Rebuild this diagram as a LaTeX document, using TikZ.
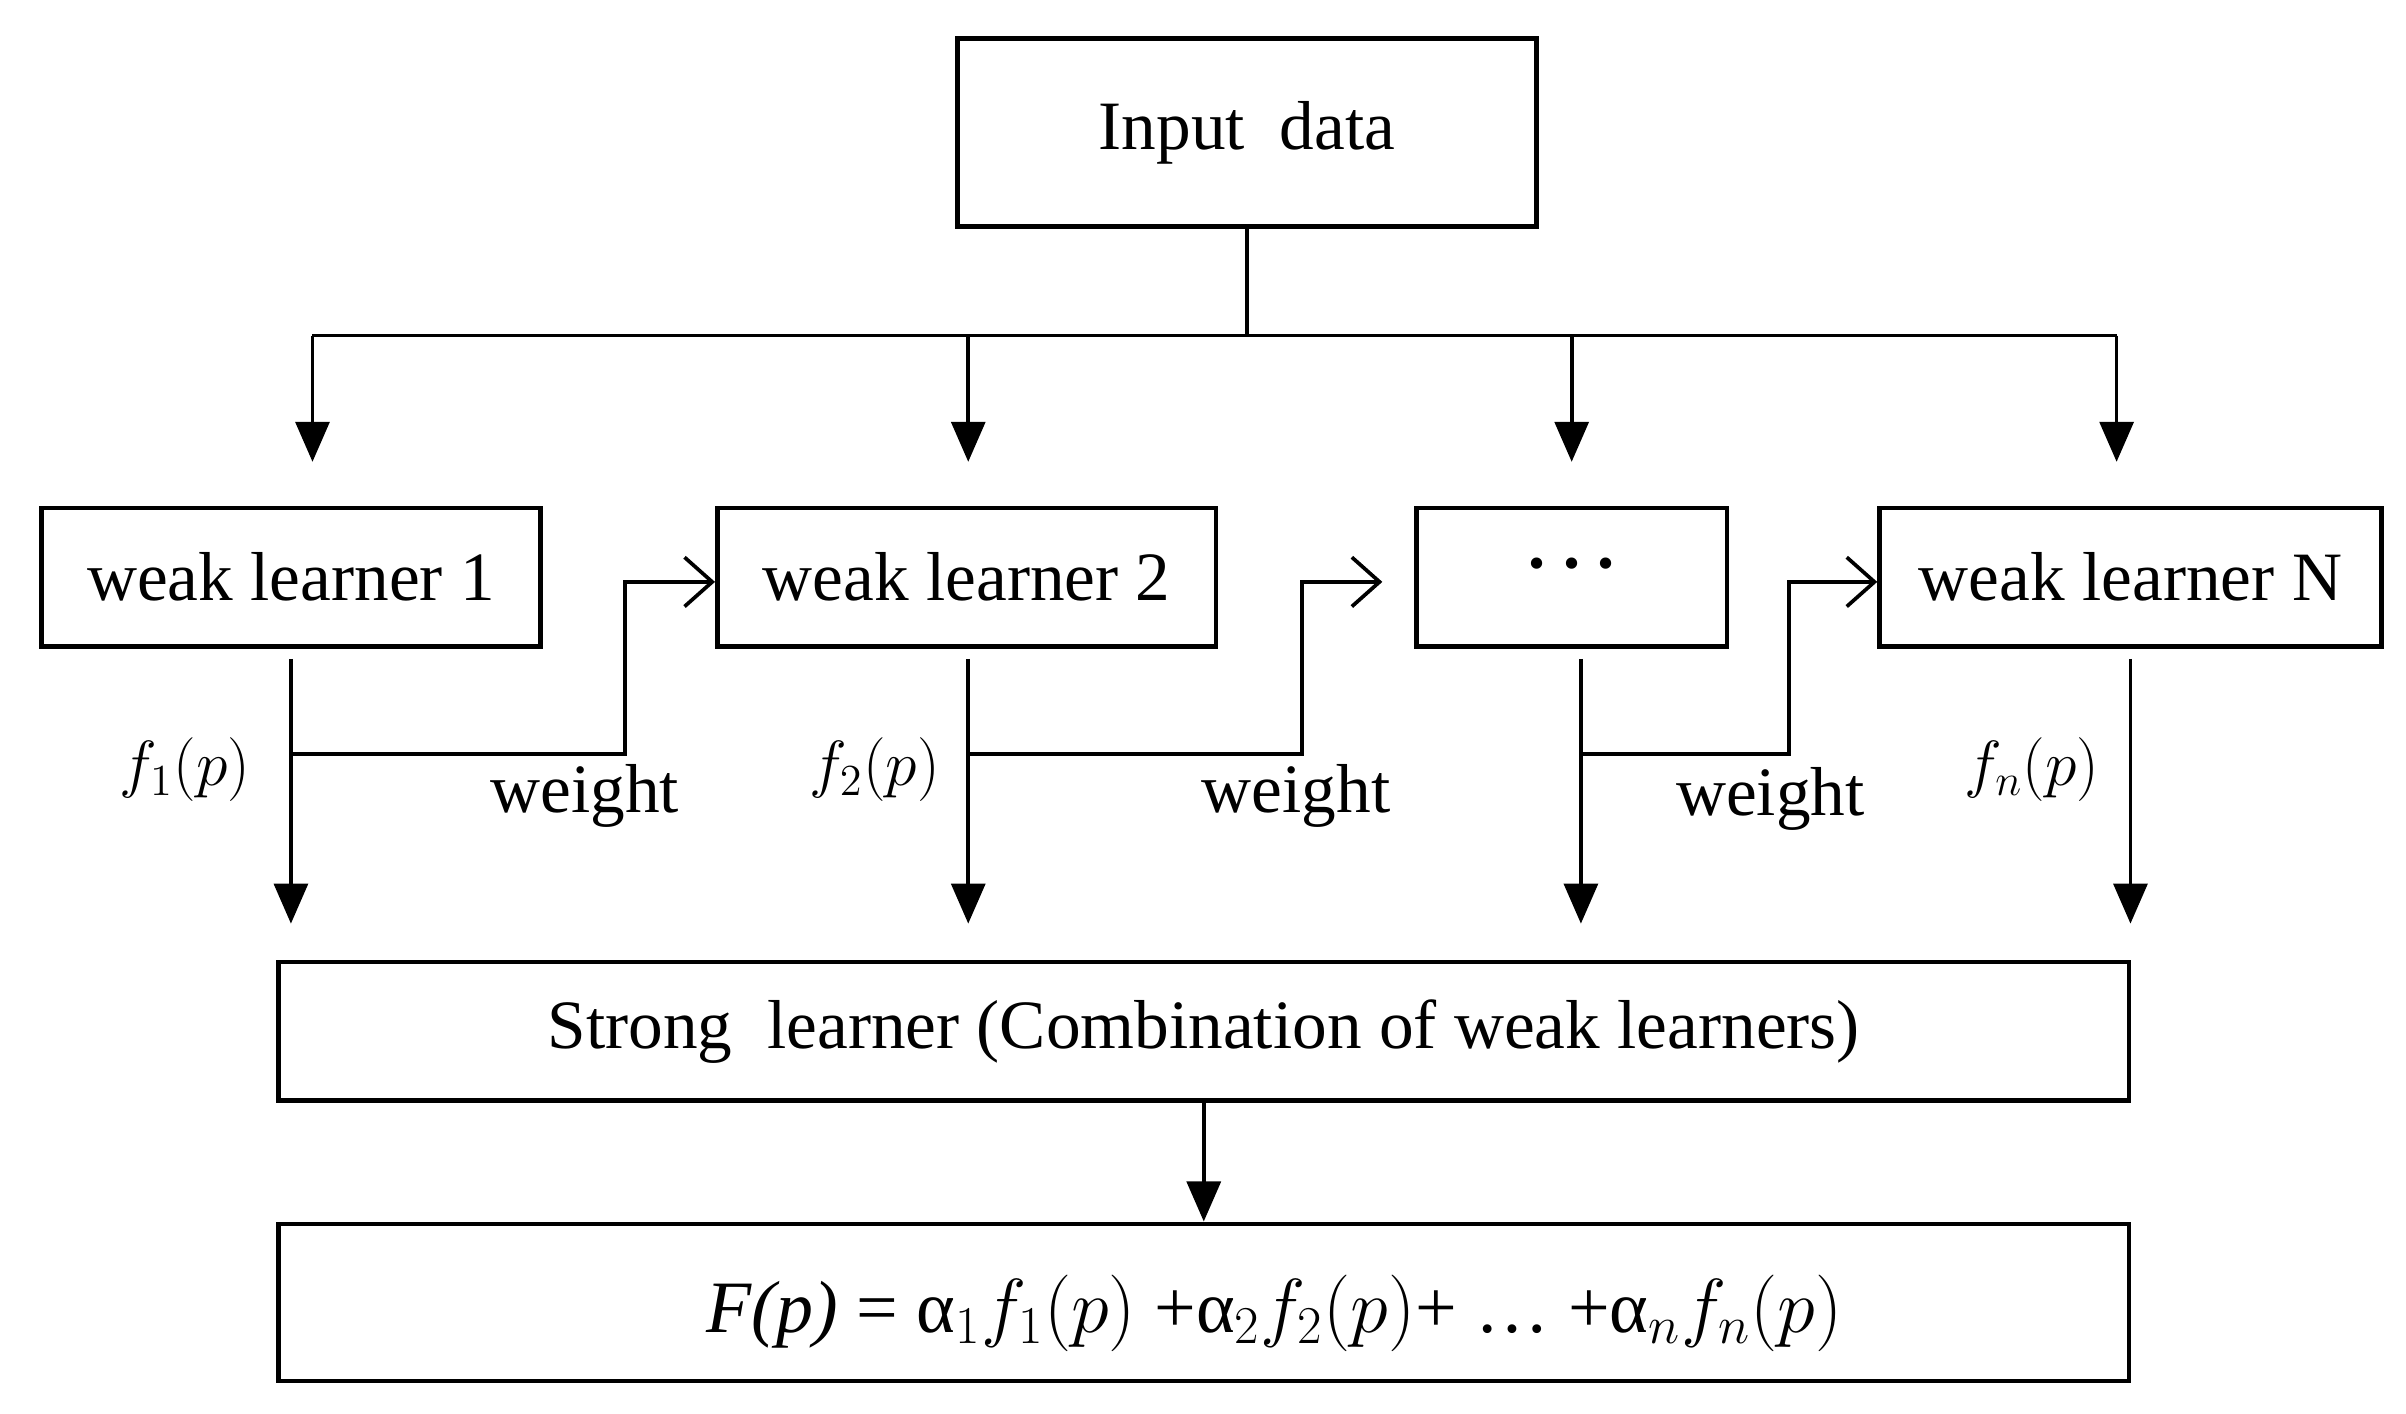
\documentclass[tikz,border=0pt]{standalone}
\usepackage{fontspec}
\setmainfont{Liberation Serif}
\usetikzlibrary{arrows.meta}
\begin{document}
\begin{tikzpicture}[x=0.5pt,y=-0.5pt,
  box/.style={draw,line width=1.5pt,inner sep=0pt},
  ln/.style={line width=1.2pt},
  fa/.style={ln,-{Triangle[length=13pt,width=11pt]}},
  oa/.style={ln,-{Straight Barb[length=9pt,width=16pt,line width=1.2pt]}},
  txt/.style={font=\fontsize{22.5}{27}\selectfont}]
\useasboundingbox (0,0) rectangle (1563,918);
\node[box,minimum width=188pt,minimum height=61pt,txt] (in) at (810,86) {Input\ \ data};
\node[box,minimum width=162pt,minimum height=45pt,txt] (w1) at (189,375) {weak learner 1};
\node[box,minimum width=162pt,minimum height=45pt,txt] (w2) at (628,375) {weak learner 2};
\node[box,minimum width=101pt,minimum height=45pt,txt] (w3) at (1021,375) {};
\node[txt] (dots) at (1021,372) {\textbf{·\,·\,·}};
\node[box,minimum width=163pt,minimum height=45pt,txt] (wn) at (1384,375) {weak learner N};
\node[box,minimum width=601pt,minimum height=45pt,txt] (s) at (782,670) {Strong\ \ learner (Combination of weak learners)};
\node[box,minimum width=601pt,minimum height=51pt,txt] (o) at (782,846) {};
\node[font=\fontsize{24}{29}\selectfont] (ot) at (828,853) {\textit{F(p)} = α$_1f_1(p)$ +α$_2f_2(p)$+ … +α$_nf_n(p)$};
% top distribution
\coordinate (j) at (810,218);
\coordinate (jl) at (203,218); \coordinate (jr) at (1375,218);
\draw[ln] (in.south) -- (j);
\draw[ln] (jl) -- (jr);
\draw[fa] (jl) -- (203,300);
\draw[fa] (629,218) -- (629,300);
\draw[fa] (1021,218) -- (1021,300);
\draw[fa] (jr) -- (1375,300);
% outputs
\draw[fa] (189,428) -- (189,600);
\draw[fa] (629,428) -- (629,600);
\draw[fa] (1027,428) -- (1027,600);
\draw[fa] (1384,428) -- (1384,600);
\draw[oa] (189,490) -- (406,490) -- (406,378) -- (w2.west |- 0,378);
\draw[oa] (629,490) -- (846,490) -- (846,378) -- (898,378);
\draw[oa] (1027,490) -- (1162,490) -- (1162,378) -- (wn.west |- 0,378);
\node[txt] (l1) at (120,500) {$f_1(p)$};
\node[txt] (l2) at (568,500) {$f_2(p)$};
\node[txt] (ln) at (1320,500) {$f_n(p)$};
\node[txt] (g1) at (380,517) {weight};
\node[txt] (g2) at (842,517) {weight};
\node[txt] (g3) at (1150,519) {weight};
\draw[fa] (s.south) -- (o.north);
\end{tikzpicture}
\end{document}
